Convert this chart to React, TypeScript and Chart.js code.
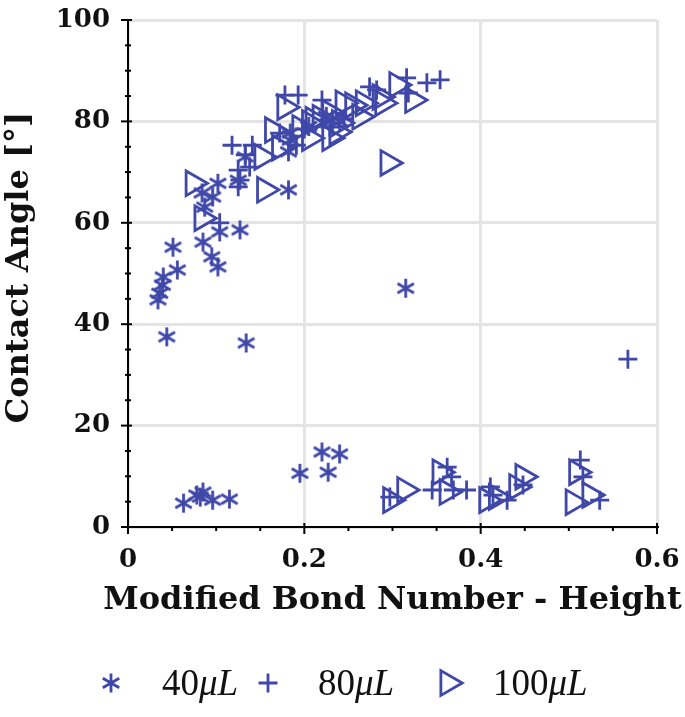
import React, { useEffect, useRef } from 'react';
import { Chart, registerables } from 'chart.js';

Chart.register(...registerables);

const COLOR = '#3f48a8';

// 40 µL (asterisks)
const x40 = [0.034, 0.036, 0.039, 0.040, 0.044, 0.051, 0.056, 0.085, 0.095, 0.102, 0.104, 0.127, 0.087, 0.084, 0.096, 0.102, 0.125, 0.182, 0.134, 0.315, 0.133, 0.182, 0.184, 0.184, 0.205, 0.225, 0.240, 0.063, 0.078, 0.082, 0.085, 0.096, 0.115, 0.195, 0.220, 0.227, 0.240];
const y40 = [44.8, 46.1, 47.7, 49.3, 37.5, 55.2, 50.7, 56.2, 53.3, 51.3, 58.2, 58.6, 63.1, 65.9, 65.1, 67.8, 68.4, 66.5, 36.3, 47.1, 73.0, 74.0, 77.7, 76.3, 79.0, 81.0, 80.0, 4.7, 6.3, 5.9, 6.9, 5.3, 5.5, 10.6, 14.8, 10.8, 14.4];

// 80 µL (plus)
const x80 = [0.104, 0.125, 0.127, 0.125, 0.138, 0.133, 0.118, 0.141, 0.172, 0.191, 0.178, 0.193, 0.200, 0.220, 0.229, 0.245, 0.274, 0.282, 0.316, 0.318, 0.339, 0.354, 0.567, 0.297, 0.345, 0.362, 0.367, 0.369, 0.384, 0.411, 0.414, 0.430, 0.448, 0.513, 0.516, 0.535];
const y80 = [60.0, 67.1, 68.4, 70.4, 71.0, 73.4, 75.3, 75.3, 77.7, 75.3, 85.2, 85.2, 78.5, 84.2, 78.9, 80.5, 86.8, 86.2, 88.6, 85.6, 87.6, 88.2, 33.1, 5.9, 7.3, 11.8, 9.9, 7.3, 7.3, 7.9, 6.3, 5.3, 8.3, 13.2, 9.9, 5.3];

// 100 µL (right-pointing triangles)
const x100 = [0.074, 0.084, 0.152, 0.155, 0.164, 0.172, 0.178, 0.195, 0.206, 0.210, 0.206, 0.218, 0.229, 0.229, 0.237, 0.240, 0.244, 0.255, 0.263, 0.267, 0.286, 0.289, 0.295, 0.305, 0.323, 0.298, 0.314, 0.354, 0.362, 0.407, 0.418, 0.441, 0.448, 0.505, 0.509, 0.524];
const y100 = [67.8, 60.9, 73.0, 66.5, 78.3, 74.8, 82.8, 78.7, 79.7, 80.3, 76.7, 80.7, 81.7, 76.7, 77.9, 79.7, 83.6, 83.2, 80.9, 83.6, 84.8, 83.6, 71.8, 87.2, 84.2, 5.3, 7.3, 10.8, 6.9, 5.3, 5.9, 7.9, 9.9, 4.9, 10.8, 6.3];

const SERIES_NAMES = ['40', '80', '100'];
const UNIT = 'μL';
const X_TICKS = [0, 0.2, 0.4, 0.6];
const Y_TICKS = [0, 20, 40, 60, 80, 100];
const X_MINOR_STEP = 0.05;
const Y_MINOR_STEP = 5;
const X_TITLE = 'Modified Bond Number - Height';
const Y_TITLE = 'Contact Angle [°]';

const MARK = 9.5;
const LW = 2.8;
const TITLE_FONT = 'bold 32px "DejaVu Serif"';

function drawAsterisk(ctx: CanvasRenderingContext2D, x: number, y: number, r: number) {
  ctx.beginPath();
  for (const a of [90, 30, -30]) {
    const rad = (a * Math.PI) / 180;
    const dx = Math.cos(rad) * r;
    const dy = Math.sin(rad) * r;
    ctx.moveTo(x - dx, y - dy);
    ctx.lineTo(x + dx, y + dy);
  }
  ctx.stroke();
}
function drawPlus(ctx: CanvasRenderingContext2D, x: number, y: number, r: number) {
  ctx.beginPath();
  ctx.moveTo(x - r, y);
  ctx.lineTo(x + r, y);
  ctx.moveTo(x, y - r);
  ctx.lineTo(x, y + r);
  ctx.stroke();
}
function drawTri(ctx: CanvasRenderingContext2D, x: number, y: number, r: number) {
  ctx.beginPath();
  for (let i = 0; i < 3; i++) {
    const a = (i * 2 * Math.PI) / 3;
    const px = x + Math.cos(a) * r;
    const py = y + Math.sin(a) * r;
    if (i === 0) ctx.moveTo(px, py);
    else ctx.lineTo(px, py);
  }
  ctx.closePath();
  ctx.stroke();
}

function makeAsteriskImage(): HTMLCanvasElement {
  const s = Math.ceil(MARK * 2 + 6);
  const c = document.createElement('canvas');
  c.width = s;
  c.height = s;
  const g = c.getContext('2d')!;
  g.strokeStyle = COLOR;
  g.lineWidth = LW;
  drawAsterisk(g, s / 2, s / 2, MARK);
  return c;
}

const toPts = (xs: number[], ys: number[]) => xs.map((x, i) => ({ x, y: ys[i] }));

const zeroPad = (s: any) => {
  s.paddingTop = 0;
  s.paddingBottom = 0;
  s.paddingLeft = 0;
  s.paddingRight = 0;
};

const axisPlugin = {
  id: 'axisDecor',
  afterDatasetsDraw(chart: any) {
    const { ctx, chartArea, scales } = chart;
    const x = scales.x;
    const y = scales.y;
    ctx.save();
    ctx.strokeStyle = '#000';
    ctx.lineWidth = 2;
    const nx = Math.round(0.6 / X_MINOR_STEP);
    for (let i = 0; i <= nx; i++) {
      const v = i * X_MINOR_STEP;
      const px = x.getPixelForValue(v);
      const major = X_TICKS.some((t) => Math.abs(t - v) < 1e-6);
      ctx.beginPath();
      ctx.moveTo(px, chartArea.bottom + (major ? 7 : 4));
      ctx.lineTo(px, chartArea.bottom - (major ? 4 : 0));
      ctx.stroke();
    }
    const ny = Math.round(100 / Y_MINOR_STEP);
    for (let i = 0; i <= ny; i++) {
      const v = i * Y_MINOR_STEP;
      const py = y.getPixelForValue(v);
      const major = Y_TICKS.includes(v);
      ctx.beginPath();
      ctx.moveTo(chartArea.left - (major ? 7 : 3), py);
      ctx.lineTo(chartArea.left + (major ? 4 : 3), py);
      ctx.stroke();
    }
    ctx.restore();
  },
  afterDraw(chart: any) {
    const { ctx, chartArea } = chart;
    ctx.save();
    // axis titles
    ctx.fillStyle = '#111';
    ctx.font = TITLE_FONT;
    ctx.textAlign = 'center';
    ctx.textBaseline = 'middle';
    ctx.fillText(X_TITLE, (chartArea.left + chartArea.right) / 2, 601);
    ctx.save();
    ctx.translate(20, (chartArea.top + chartArea.bottom) / 2 - 6);
    ctx.rotate(-Math.PI / 2);
    ctx.fillText(Y_TITLE, 0, 0);
    ctx.restore();

    // legend
    ctx.strokeStyle = COLOR;
    ctx.lineWidth = LW;
    const cy = 683;
    drawAsterisk(ctx, 111, cy, MARK);
    drawPlus(ctx, 268, cy, MARK);
    drawTri(ctx, 448, cy, MARK * 1.5);
    const textX = [162, 318, 493];
    ctx.textAlign = 'left';
    ctx.textBaseline = 'alphabetic';
    SERIES_NAMES.forEach((n, i) => {
      ctx.font = '37px "Liberation Serif"';
      ctx.fillText(n, textX[i], cy + 12);
      const w = ctx.measureText(n).width;
      ctx.font = 'italic 37px "Liberation Serif"';
      ctx.fillText(UNIT, textX[i] + w, cy + 12);
    });
    ctx.restore();
  },
};

export default function App() {
  const ref = useRef<HTMLCanvasElement | null>(null);
  useEffect(() => {
    if (!ref.current) return;
    const star = makeAsteriskImage();
    const tickFont = { family: '"DejaVu Serif"', size: 26, weight: 'bold' as const };
    const chart = new Chart(ref.current, {
      type: 'scatter',
      data: {
        datasets: [
          {
            label: SERIES_NAMES[0] + UNIT,
            data: toPts(x40, y40),
            pointStyle: star,
            pointRadius: MARK,
            borderColor: COLOR,
            backgroundColor: 'rgba(0,0,0,0)',
            clip: false as any,
          },
          {
            label: SERIES_NAMES[1] + UNIT,
            data: toPts(x80, y80),
            pointStyle: 'cross',
            pointRadius: MARK,
            pointBorderWidth: LW,
            borderColor: COLOR,
            backgroundColor: 'rgba(0,0,0,0)',
            clip: false as any,
          },
          {
            label: SERIES_NAMES[2] + UNIT,
            data: toPts(x100, y100),
            pointStyle: 'triangle',
            pointRotation: 90,
            pointRadius: MARK * 1.5,
            pointBorderWidth: LW,
            borderColor: COLOR,
            backgroundColor: 'rgba(0,0,0,0)',
            clip: false as any,
          },
        ],
      },
      options: {
        responsive: false,
        animation: false,
        layout: { padding: { left: 0, right: 28, top: 20, bottom: 100 } },
        plugins: { legend: { display: false }, tooltip: { enabled: false } },
        scales: {
          x: {
            type: 'linear',
            min: 0,
            max: 0.6,
            afterBuildTicks: (s: any) => {
              s.ticks = X_TICKS.map((v) => ({ value: v }));
            },
            afterFit: (s: any) => {
              s.height = 90;
              zeroPad(s);
            },
            grid: { color: '#e4e4e4', lineWidth: 3, drawTicks: false },
            border: { color: '#000', width: 2 },
            ticks: {
              padding: 18,
              color: '#111',
              font: tickFont,
              maxRotation: 0,
              callback: (v: any) => (Number(v) === 0 ? '0' : String(+Number(v).toFixed(1))),
            },
            title: { display: false },
          },
          y: {
            type: 'linear',
            min: 0,
            max: 100,
            afterBuildTicks: (s: any) => {
              s.ticks = Y_TICKS.map((v) => ({ value: v }));
            },
            afterFit: (s: any) => {
              s.width = 128;
              zeroPad(s);
            },
            grid: { color: '#e4e4e4', lineWidth: 3, drawTicks: false },
            border: { color: '#000', width: 2 },
            ticks: { padding: 18, color: '#111', font: tickFont },
            title: { display: false },
          },
        },
      },
      plugins: [axisPlugin],
    });
    return () => chart.destroy();
  }, []);
  return (
    <div style={{ position: 'fixed', left: 0, top: 0, width: 685, height: 717, background: '#fff' }}>
      <canvas ref={ref} width={685} height={717} />
    </div>
  );
}
